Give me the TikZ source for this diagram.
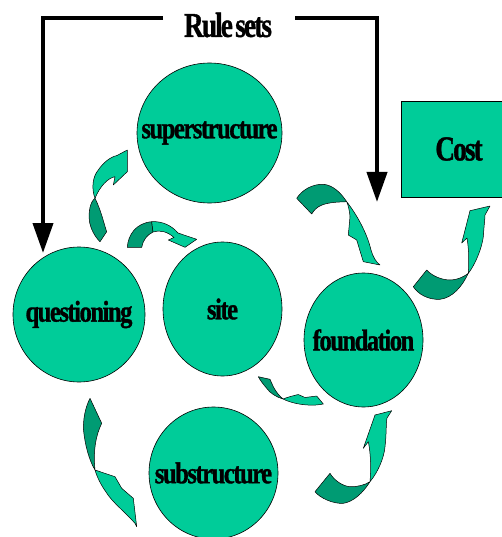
\documentclass[tikz,border=0pt]{standalone}
\usepackage{fontspec}
\setmainfont{Liberation Serif}
\usetikzlibrary{arrows.meta,shapes.geometric}
\definecolor{tealA}{RGB}{0,204,153}
\definecolor{tealB}{RGB}{0,155,115}
\newcommand{\lab}[1]{\makebox[0pt]{\scalebox{0.82}[1]{\fontsize{30}{31}\selectfont\bfseries\addfontfeatures{FakeBold=1.2,LetterSpace=-6}#1}}}
\newcommand{\biglab}[1]{\makebox[0pt]{\scalebox{0.78}[1]{\fontsize{35}{36}\selectfont\bfseries\addfontfeatures{FakeBold=1.2,LetterSpace=-7}#1}}}
\begin{document}
\begin{tikzpicture}[x=1pt,y=-1pt,
  blob/.style={ellipse, draw=black, line width=0.6pt, fill=tealA, inner sep=0pt},
  darkpart/.style={fill=tealB, draw=black, line width=0.5pt, line join=round},
  lightpart/.style={fill=tealA, draw=black, line width=0.5pt, line join=round},
  rule/.style={line width=4pt, -{Triangle[width=20pt,length=30pt]}}]
\useasboundingbox (0,0) rectangle (502,537);
\begin{scope}
\clip (0,0) rectangle (502,537);
% nodes
\node[blob, minimum width=145pt, minimum height=140pt] (super) at (209.5,133) {\lab{superstructure}};
\node[blob, minimum width=132pt, minimum height=135pt] (quest) at (79,314.5) {\lab{questioning}};
\node[blob, minimum width=119pt, minimum height=134pt] (site) at (222.5,309) {\lab{site}};
\node[blob, minimum width=119pt, minimum height=134pt] (found) at (363.5,340) {\lab{foundation}};
\node[blob, minimum width=129pt, minimum height=132pt] (sub) at (213.5,473) {\lab{substructure}};
\node[rectangle, draw=black, line width=0.6pt, fill=tealA, minimum width=116pt, minimum height=96pt] (cost) at (459,149) {\biglab{Cost}};
\node (rules) at (228,25) {\biglab{Rule\hspace{3pt}sets}};
% black rule arrows
\coordinate (lq) at (43,253);
\coordinate (rf) at (377,202);
\coordinate (ls) at (163,18);
\coordinate (rs) at (295,18);
\draw[rule] (ls) -| (lq);
\draw[rule] (rs) -| (rf);
% curved arrows
% 1 questioning -> superstructure
\filldraw[darkpart] (95,198.3) .. controls (90,202) and (88.5,212) .. (89.3,220) .. controls (90,228) and (95,237) .. (100,241.7) -- (106.7,231.7) .. controls (104,224) and (101,210) .. (95,198.3) -- cycle;
\filldraw[lightpart] (95,198.3) .. controls (91,188) and (93,176) .. (98.3,170) .. controls (103,163) and (110,157) .. (117,155.5) -- (127.3,150) -- (127.3,171.7) -- (113.3,185) -- (115,176.7) .. controls (108,178) and (100,186) .. (95,198.3) -- cycle;
% 2 questioning -> site
\filldraw[darkpart] (127.3,247.3) .. controls (128,235) and (136,223) .. (151.7,221.7) -- (153,232) .. controls (147,235) and (143,240) .. (141.7,247.3) -- cycle;
\filldraw[lightpart] (151.7,221.7) .. controls (163,221) and (172,226) .. (178,233) -- (196.7,239.3) -- (185,247.3) -- (168.3,240) -- (174,237.5) .. controls (168,232) and (160,229.5) .. (153,232) -- cycle;
% 3 superstructure -> foundation
\filldraw[darkpart] (296.7,198.3) .. controls (302,190) and (312,184) .. (323.3,184.3) .. controls (333,185) and (341,193) .. (346.7,201.7) .. controls (340,202) and (330,202) .. (322,205) .. controls (317,207) and (314,210) .. (311.7,214) -- cycle;
\filldraw[lightpart] (346.7,201.7) .. controls (357,215) and (367,233) .. (371,250) .. controls (373,257) and (376,262) .. (380,265) -- (363.3,261.7) -- (356.7,240) -- (348.3,235) -- (350,216.7) .. controls (349.5,211) and (348.5,206) .. (346.7,201.7) -- cycle;
% 4 foundation -> cost
\filldraw[darkpart] (413.3,286.7) .. controls (418,294) and (428,300) .. (440,299.3) .. controls (452,298) and (462,287) .. (468.3,273.3) .. controls (462,278) and (456,280) .. (450,280) .. controls (442,280) and (432,276) .. (426.7,270) -- cycle;
\filldraw[lightpart] (468.3,273.3) .. controls (475,265) and (482,248) .. (483.3,236.7) .. controls (484,226) and (485,218) .. (485,215) -- (490,206) -- (470,210.7) -- (461.7,243) -- (467,238) .. controls (469,250) and (469,262) .. (468.3,273.3) -- cycle;
% 5 questioning -> substructure
\filldraw[darkpart] (90,398.3) -- (101.7,423.3) .. controls (96,435) and (93,450) .. (95,470) .. controls (89,460) and (85,445) .. (83.5,430) .. controls (83,420) and (85,408) .. (90,398.3) -- cycle;
\filldraw[lightpart] (95,470) -- (115,476.7) -- (121.7,488.3) -- (133.3,498.3) -- (136.7,526.7) -- (135,523.3) .. controls (125,512) and (112,502) .. (106,492) .. controls (101,485) and (97,477) .. (95,470) -- cycle;
% 6 site -> foundation
\filldraw[darkpart] (258.3,376.7) -- (270,379.3) -- (273.3,386.7) .. controls (276,392) and (279.5,396) .. (283,399) .. controls (276,397) and (270,393) .. (266.7,388.3) .. controls (263,384) and (260,380) .. (258.3,376.7) -- cycle;
\filldraw[lightpart] (283,399) .. controls (288,397) and (294,395.5) .. (298.3,394.5) -- (305,397.5) -- (316.7,396) -- (323.3,404) .. controls (318,405) and (312,405.5) .. (308,405) .. controls (298,404.5) and (289,402) .. (283,399) -- cycle;
% 7 substructure -> foundation
\filldraw[darkpart] (315,491.7) .. controls (320,498) and (333,504) .. (343.3,503.3) .. controls (353,502) and (363,493) .. (370,481.7) .. controls (365,485) and (357,487) .. (350,486.7) .. controls (342,486) and (334,480) .. (330,473.3) -- cycle;
\filldraw[lightpart] (370,481.7) .. controls (378,472) and (384,458) .. (385,446.7) .. controls (386.5,435) and (386,422) .. (387,418) -- (391.7,410.7) -- (375,415) -- (363.3,448.3) -- (368.3,441.7) .. controls (371,455) and (371,470) .. (370,481.7) -- cycle;
\end{scope}
\end{tikzpicture}
\end{document}
